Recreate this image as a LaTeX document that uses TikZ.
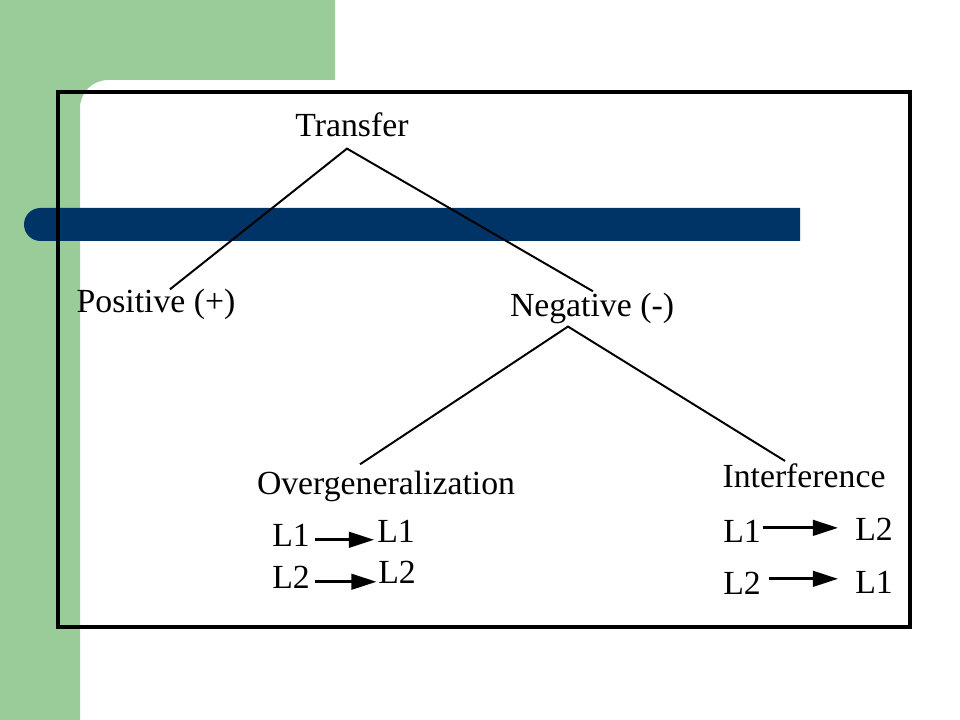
\documentclass[tikz,border=0pt]{standalone}
\usepackage{fontspec}
\setmainfont{Liberation Serif}
\usetikzlibrary{calc}
\usetikzlibrary{arrows.meta}

\definecolor{slidegreen}{RGB}{153,204,153}
\definecolor{slideblue}{RGB}{0,51,102}

\begin{document}
\begin{tikzpicture}[x=0.025cm,y=-0.025cm,every node/.style={font=\fontsize{24}{28}\selectfont,inner sep=0pt},
  treeline/.style={line width=1.4pt},
  langarrow/.style={line width=2.2pt,-{Triangle[length=18pt,width=11pt]}}]

\useasboundingbox (0,0) rectangle (960,720);

% slide background
\fill[slidegreen] (0,0)--(335,0)--(335,80)--(108,80) arc[start angle=270,end angle=180,radius=28]--(80,720)--(0,720)--cycle;
\fill[slideblue] (800,208)--(40.5,208) arc[start angle=270,end angle=90,radius=16.5]--(800,241)--cycle;
\draw[line width=2.5pt] (58,92) rectangle (910,627);

% tree
\node[anchor=base] (transfer) at (352,137) {Transfer};
\node[anchor=base] (pos) at (156,313) {Positive (+)};
\node[anchor=base] (neg) at (592,317) {Negative (-)};
\node[anchor=base] (over) at (386,495) {Overgeneralization};
\node[anchor=base] (inter) at (804,488) {Interference};

\draw[treeline] ($(pos.north)+(14,0)$) -- ($(transfer.south)+(-5,11)$) -- ($(neg.north)+(1,-2)$);
\draw[treeline] ($(over.north)+(-26,-7)$) -- ($(neg.south)+(-24,2)$) -- ($(inter.north)+(-19,-3)$);

% L1 / L2
\node[anchor=base west] (oa1) at (272,547) {L1};
\node[anchor=base west] (ob1) at (377,542) {L1};
\node[anchor=base west] (oa2) at (272,588) {L2};
\node[anchor=base west] (ob2) at (378,583) {L2};
\node[anchor=base west] (ia1) at (723,542) {L1};
\node[anchor=base west] (ib1) at (855,541) {L2};
\node[anchor=base west] (ia2) at (723,595) {L2};
\node[anchor=base west] (ib2) at (855,593) {L1};

\coordinate (oa1s) at ($(oa1.mid east)+(5,-4)$);
\coordinate (oa2s) at ($(oa2.mid east)+(5,-3)$);
\coordinate (ia1s) at ($(ia1.east)+(2,-3)$);
\coordinate (ia2s) at ($(ia2.east)+(8,-5)$);

\draw[langarrow,shorten >=2pt] (oa1s) -- (oa1s -| ob1.west);
\draw[langarrow,shorten >=1pt] (oa2s) -- (oa2s -| ob2.west);
\draw[langarrow,shorten >=12pt] (ia1s) -- (ia1s -| ib1.west);
\draw[langarrow,shorten >=12pt] (ia2s) -- (ia2s -| ib2.west);

\end{tikzpicture}
\end{document}
